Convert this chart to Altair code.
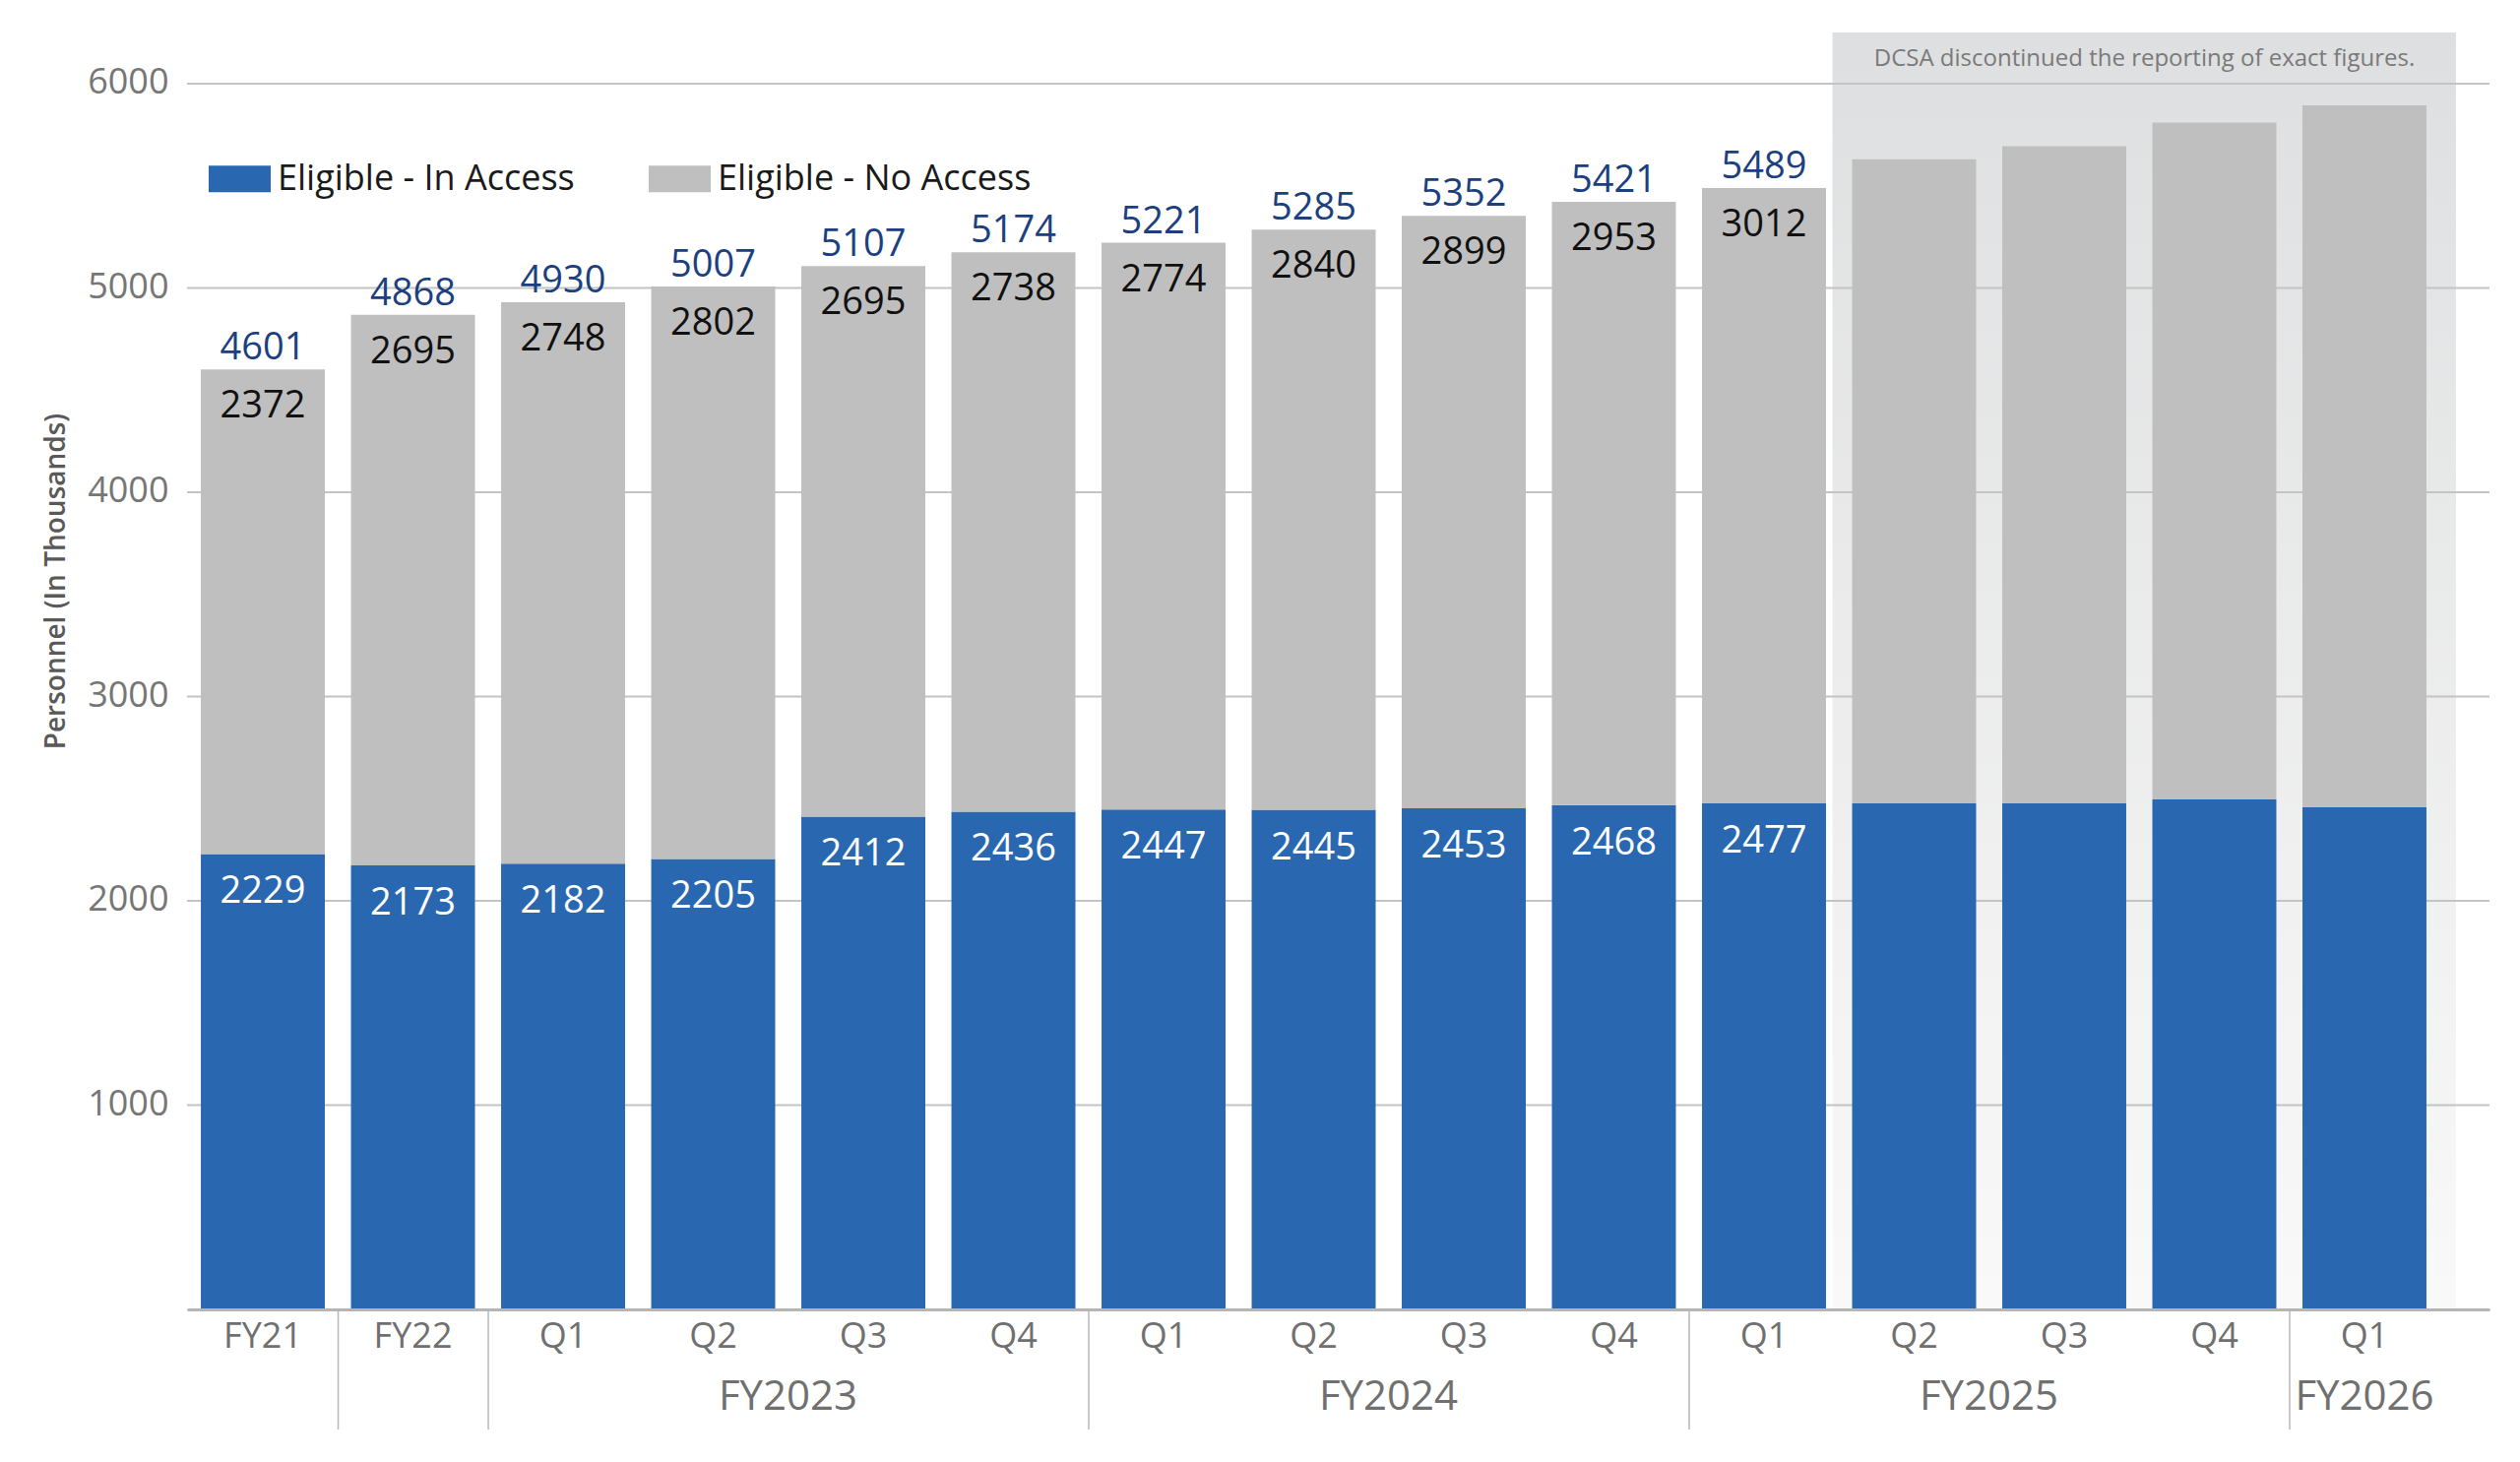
import altair as alt
import pandas as pd

# ---------------- data ----------------
period_labels = ["FY21", "FY22", "Q1", "Q2", "Q3", "Q4", "Q1", "Q2", "Q3", "Q4",
                 "Q1", "Q2", "Q3", "Q4", "Q1"]
fiscal_years = ["FY21", "FY22", "FY2023", "FY2023", "FY2023", "FY2023",
                "FY2024", "FY2024", "FY2024", "FY2024",
                "FY2025", "FY2025", "FY2025", "FY2025", "FY2026"]
in_access = [2229, 2173, 2182, 2205, 2412, 2436, 2447, 2445, 2453, 2468,
             2477, 2477, 2477, 2496, 2457]
no_access = [2372, 2695, 2748, 2802, 2695, 2738, 2774, 2840, 2899, 2953,
             3012, 3153, 3217, 3313, 3437]
reported = [True, True, True, True, True, True, True, True, True, True,
            True, False, False, False, False]
series_names = ["Eligible - In Access", "Eligible - No Access"]
series_colors = ["#2968b1", "#bfbfbf"]
y_ticks = [1000, 2000, 3000, 4000, 5000, 6000]
Y_MAX = 6250
note_text = "DCSA discontinued the reporting of exact figures."
y_title = "Personnel (In Thousands)"

# ---------------- layout constants ----------------
W, H = 2339, 1297
FONT = "Open Sans"
HALF_GAP = 13

cats = [p if p == fy else f"{fy} {p}" for p, fy in zip(period_labels, fiscal_years)]

rows = []
for c, a, n in zip(cats, in_access, no_access):
    rows.append({"cat": c, "series": series_names[0], "start": 0, "end": a})
    rows.append({"cat": c, "series": series_names[1], "start": a, "end": a + n})
bars_df = pd.DataFrame(rows)

lab_df = pd.DataFrame([
    {"cat": c, "inacc": a, "noacc": n, "total": a + n}
    for c, a, n, r in zip(cats, in_access, no_access, reported) if r
])

sep_df = pd.DataFrame([{"cat": cats[i]} for i in range(1, len(cats))
                       if fiscal_years[i] != fiscal_years[i - 1]])

even_rows, odd_rows = [], []
seen = []
for fy in fiscal_years:
    if fy not in seen:
        seen.append(fy)
for fy in seen:
    idx = [i for i, f in enumerate(fiscal_years) if f == fy]
    if all(period_labels[i] == fy for i in idx):
        continue
    n = len(idx)
    if n % 2 == 0:
        even_rows.append({"cat": cats[idx[0] + n // 2 - 1], "fy": fy})
    else:
        odd_rows.append({"cat": cats[idx[0] + n // 2], "fy": fy})
even_df = pd.DataFrame(even_rows)
odd_df = pd.DataFrame(odd_rows)

first_unrep = reported.index(False)
box_df = pd.DataFrame([{"cat": cats[first_unrep], "cat_end": cats[-1]}])
note_df = pd.DataFrame([{"cat": cats[-2], "note": note_text}])
grid_df = pd.DataFrame({"v": y_ticks})

xscale = alt.Scale(domain=cats, paddingInner=0.174, paddingOuter=0.256, align=0.18)
yscale = alt.Scale(domain=[0, Y_MAX], nice=False, zero=True)

x_axis = alt.Axis(title=None, labelExpr="peek(split(datum.label, ' '))", labelAngle=0,
                  ticks=False, grid=False, labelPadding=10,
                  labelFontSize=36, labelColor="#707070", labelFont=FONT,
                  domainColor="#b5b5b5", domainWidth=3, zindex=1)
y_axis = alt.Axis(title=y_title, values=y_ticks, format="d", grid=False, ticks=False,
                  domain=False,
                  labelFontSize=36, labelColor="#767676", labelFont=FONT,
                  labelPadding=19, labelBaseline="middle", labelOffset=-1,
                  titleFontSize=28, titleFontWeight=600, titleColor="#595959",
                  titleFont=FONT, titleX=-133, titleY=557, titleAngle=270,
                  titleAlign="center", titleBaseline="middle")


def X(field, **kw):
    return alt.X(field, scale=xscale, axis=x_axis, **kw)


def Y(field, **kw):
    return alt.Y(field, scale=yscale, axis=y_axis, **kw)


# ---------------- layers ----------------
box = alt.Chart(box_df).mark_rect(
    fill=alt.Gradient(gradient="linear",
                      stops=[alt.GradientStop(color="#dedfe0", offset=0),
                             alt.GradientStop(color="#f9f9f9", offset=1)],
                      x1=0, x2=0, y1=0, y2=1),
    xOffset=-20, x2Offset=30,
).encode(
    x=X("cat:N", bandPosition=0),
    x2=alt.X2("cat_end", bandPosition=1),
    y=alt.value(0), y2=alt.value(H),
)

grid = alt.Chart(grid_df).mark_rule(color="#c4c4c4", strokeWidth=2).encode(
    y=Y("v:Q")
)

bars = alt.Chart(bars_df).mark_bar().encode(
    x=X("cat:N"),
    y=Y("start:Q"),
    y2="end:Q",
    color=alt.Color("series:N",
                    scale=alt.Scale(domain=series_names, range=series_colors),
                    legend=alt.Legend(title=None, orient="none", direction="horizontal",
                                      legendX=22, legendY=117, padding=0,
                                      symbolType="M-1,-0.43H1V0.43H-1Z",
                                      symbolSize=3969, symbolStrokeWidth=0,
                                      labelFontSize=36, labelColor="#1a1a1a",
                                      labelFont=FONT, labelLimit=800, labelOffset=7,
                                      columnPadding=75)),
)

total_lbl = alt.Chart(lab_df).mark_text(
    baseline="alphabetic", dy=-10, fontSize=38, color="#1c3f80", font=FONT
).encode(x=X("cat:N"), y=Y("total:Q"), text="total:Q")

no_lbl = alt.Chart(lab_df).mark_text(
    baseline="alphabetic", dy=49, fontSize=38, color="#111111", font=FONT
).encode(x=X("cat:N"), y=Y("total:Q"), text="noacc:Q")

in_lbl = alt.Chart(lab_df).mark_text(
    baseline="alphabetic", dy=50, fontSize=38, color="#ffffff", font=FONT
).encode(x=X("cat:N"), y=Y("inacc:Q"), text="inacc:Q")

seps = alt.Chart(sep_df).mark_rule(color="#b8b8b8", strokeWidth=1.5, xOffset=-HALF_GAP).encode(
    x=X("cat:N", bandPosition=0),
    y=alt.value(H), y2=alt.value(H + 122),
)

grp_even = alt.Chart(even_df).mark_text(
    baseline="middle", fontSize=42, color="#707070", font=FONT, dx=HALF_GAP
).encode(x=X("cat:N", bandPosition=1), y=alt.value(H + 89), text="fy:N")

grp_odd = alt.Chart(odd_df).mark_text(
    baseline="middle", fontSize=42, color="#707070", font=FONT
).encode(x=X("cat:N", bandPosition=0.5), y=alt.value(H + 89), text="fy:N")

note = alt.Chart(note_df).mark_text(
    baseline="middle", fontSize=24, color="#7a7a7a", font=FONT, dx=-8
).encode(x=X("cat:N", bandPosition=0), y=alt.value(27), text="note:N")

chart = alt.layer(
    box, grid, bars, total_lbl, no_lbl, in_lbl, seps, grp_even, grp_odd, note
).properties(
    width=W, height=H,
    padding={"left": 182, "top": 25, "right": 15, "bottom": 140},
    autosize=alt.AutoSizeParams(type="none"),
).configure(font=FONT, background="white").configure_view(stroke=None)

chart.save("out.html", embed_options={"renderer": "svg", "actions": False})
